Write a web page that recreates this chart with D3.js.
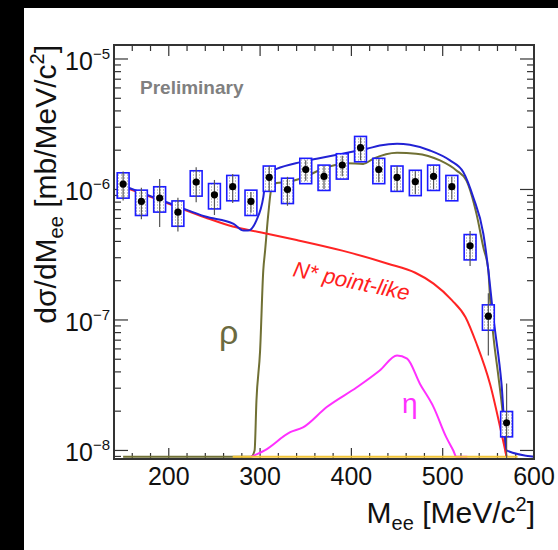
<!DOCTYPE html>
<html lang="en">
<head>
<meta charset="utf-8">
<title>dielectron invariant mass</title>
<script src="https://d3js.org/d3.v7.min.js"></script>
<style>
body{margin:0;background:#000;}
#chart1 text{font-family:"Liberation Sans",Arial,sans-serif;}
</style>
</head>
<body>
<div id="chart1"></div>
<script>
// measured points (M_ee in MeV/c2, dsigma/dM in mb/MeV/c2)
var massBins = [150,170,190,210,230,250,270,290,310,330,350,370,390,410,430,450,470,490,510,530,550,570]
var xsec = [1.10e-6,8.1e-7,8.6e-7,6.7e-7,1.14e-6,9.1e-7,1.05e-6,8.1e-7,1.24e-6,1.0e-6,1.42e-6,1.26e-6,1.54e-6,2.09e-6,1.42e-6,1.24e-6,1.15e-6,1.26e-6,1.05e-6,3.7e-7,1.07e-7,1.63e-8]
var statErr = [0.25,0.27,0.40,0.29,0.30,0.30,0.25,0.18,0.22,0.25,0.18,0.20,0.18,0.20,0.20,0.22,0.20,0.20,0.20,0.30,0.50,1.0]
var sysErr = [0.22,0.22,0.22,0.22,0.22,0.22,0.22,0.22,0.22,0.22,0.22,0.22,0.22,0.22,0.22,0.22,0.22,0.22,0.22,0.22,0.22,0.22]

// model curves
var nstarM = [150,180,210,240,270,300,340,390,440,470,490,510,525,537,552,563,570]
var nstarVal = [1.05e-6,8.8e-7,7.3e-7,6.1e-7,5.2e-7,4.7e-7,4.1e-7,3.4e-7,2.7e-7,2.3e-7,1.9e-7,1.42e-7,1.05e-7,6.6e-8,3.2e-8,1.5e-8,8.5e-9]
var rhoM = [150,290,294,296,300,303.5,305.5,309,312.7,318,329,344,373,395,413,424,450,471,497,515,526,537,544.5,550,552,556,561,566,569.5]
var rhoVal = [0,0,1e-8,2.4e-8,5.8e-8,2.4e-7,3.4e-7,6.5e-7,1.04e-6,1.12e-6,1.14e-6,1.21e-6,1.48e-6,1.59e-6,1.57e-6,1.72e-6,1.91e-6,1.88e-6,1.67e-6,1.40e-6,1.17e-6,6.5e-7,3.6e-7,2.4e-7,1.4e-7,7e-8,3.7e-8,1.83e-8,8.5e-9]
var etaM = [290,305,333,347,373,406,431,450,461,475,490,504,511.6,515,527]
var etaVal = [0,1.0e-8,1.38e-8,1.5e-8,2.15e-8,3.05e-8,4.1e-8,5.35e-8,5.05e-8,3.25e-8,2.15e-8,1.26e-8,1e-8,0,0]
var totalM = [150,180,210,240,271,282,287,296,303.5,307,318,344,362,380,398,417,431,450,464,486,508,522.5,533.5,544.5,550,555.5,564.5,570,600]
var totalVal = [1.07e-6,8.9e-7,7.4e-7,6.2e-7,5.45e-7,4.85e-7,4.85e-7,5.8e-7,8.7e-7,1.32e-6,1.44e-6,1.62e-6,1.72e-6,1.82e-6,1.93e-6,2.05e-6,2.17e-6,2.24e-6,2.2e-6,1.99e-6,1.67e-6,1.36e-6,8.7e-7,4.58e-7,2.4e-7,1.05e-7,3.2e-8,1e-8,0]
var otherM = [270,582]
var otherVal = [0,0]

// axes
var xTickVals = [200,300,400,500,600]
var xTickLabels = ["200","300","400","500","600"]
var yTickExp = [-8,-7,-6,-5]

var w = 558, h = 550
var fl = 114, fr = 534, ft = 45, fb = 459
var yLo = 8.6e-9, yHi = 1.28e-5

var xScale = d3.scaleLinear().domain([140,600]).range([fl,fr])
var yScale = d3.scaleLog().domain([yLo,yHi]).range([fb,ft])

function yPos(v){
    if(v <= yLo) return fb - 2.2
    return Math.min(yScale(v), fb - 2.2)
}

var svg = d3.select("#chart1").append("svg").attr("width",w).attr("height",h)
svg.append("rect").attr("width",w).attr("height",h).attr("fill","#000")
svg.append("rect").attr("x",24).attr("y",8).attr("width",w-24).attr("height",h-8).attr("fill","#fff")

var defs = svg.append("defs")
defs.append("clipPath").attr("id","frameClip")
    .append("rect").attr("x",fl).attr("y",ft).attr("width",fr-fl).attr("height",fb-ft)
var pat = defs.append("pattern").attr("id","hatch").attr("patternUnits","userSpaceOnUse")
    .attr("width",3).attr("height",3)
pat.append("rect").attr("width",3).attr("height",3).attr("fill","#fff")
pat.append("rect").attr("x",1).attr("width",1).attr("height",2).attr("fill","#c4c4c4")

// ticks (inside, all four sides)
var ticks = svg.append("g").attr("stroke","#333").attr("stroke-width",1.2)
d3.range(140,601,20).forEach(function(m){
    var major = (m % 100 == 0)
    var len = major ? 11 : 6
    ticks.append("line").attr("x1",xScale(m)).attr("x2",xScale(m)).attr("y1",fb).attr("y2",fb-len)
    ticks.append("line").attr("x1",xScale(m)).attr("x2",xScale(m)).attr("y1",ft).attr("y2",ft+len)
})
yScale.ticks().forEach(function(v){
    var major = Math.abs(Math.log10(v) - Math.round(Math.log10(v))) < 1e-6
    var len = major ? 14 : 7
    var y = yScale(v)
    ticks.append("line").attr("x1",fl).attr("x2",fl+len).attr("y1",y).attr("y2",y)
    ticks.append("line").attr("x1",fr).attr("x2",fr-len).attr("y1",y).attr("y2",y)
})

// tick labels
xTickVals.forEach(function(m,i){
    svg.append("text").attr("x",xScale(m)).attr("y",485).attr("text-anchor","middle")
        .attr("font-size",25).attr("fill","#111").text(xTickLabels[i])
})
yTickExp.forEach(function(e){
    var y = yScale(Math.pow(10,e))
    var t = svg.append("text").attr("x",110).attr("y",y+11).attr("text-anchor","end").attr("fill","#111")
    t.append("tspan").attr("font-size",25).text("10")
    t.append("tspan").attr("font-size",15).attr("dy",-11).text("\u2212" + Math.abs(e))
})

// axis titles
var xt = svg.append("text").attr("x",535).attr("y",523).attr("text-anchor","end").attr("font-size",30).attr("fill","#111")
xt.append("tspan").text("M")
xt.append("tspan").attr("font-size",20).attr("dy",7).text("ee")
xt.append("tspan").attr("dy",-7).text(" [MeV/c")
xt.append("tspan").attr("font-size",20).attr("dy",-12).text("2")
xt.append("tspan").attr("dy",12).text("]")

var yt = svg.append("text").attr("transform","translate(56,45) rotate(-90)").attr("text-anchor","end")
    .attr("font-size",30).attr("fill","#111")
yt.append("tspan").text("d\u03c3/dM")
yt.append("tspan").attr("font-size",20).attr("dy",7).text("ee")
yt.append("tspan").attr("dy",-7).text(" [mb/MeV/c")
yt.append("tspan").attr("font-size",20).attr("dy",-12).text("2")
yt.append("tspan").attr("dy",12).text("]")

svg.append("text").attr("x",140).attr("y",94).attr("font-size",19).attr("font-weight","bold")
    .attr("fill","#808080").text("Preliminary")

// curves
var plot = svg.append("g").attr("clip-path","url(#frameClip)")
var line = d3.line().x(function(d){ return xScale(d[0]) }).y(function(d){ return yPos(d[1]) })
    .curve(d3.curveMonotoneX)
function drawCurve(ms, vals, col){
    plot.append("path").datum(d3.zip(ms, vals)).attr("d",line)
        .attr("fill","none").attr("stroke",col).attr("stroke-width",2)
}
drawCurve(rhoM, rhoVal, "#707034")
drawCurve(nstarM, nstarVal, "#ff2424")
drawCurve(etaM, etaVal, "#ff30ff")
drawCurve(totalM, totalVal, "#2222d4")
drawCurve(otherM, otherVal, "#f2c436")

// data: sys boxes, stat bars, markers
var pts = d3.range(massBins.length).map(function(i){
    return {m:massBins[i], v:xsec[i], st:statErr[i], sy:sysErr[i]}
})
var boxHalf = 6.5
plot.selectAll("rect.sys").data(pts).enter().append("rect")
    .attr("class","sys")
    .attr("x",function(d){ return xScale(d.m - boxHalf) })
    .attr("width",function(d){ return xScale(d.m + boxHalf) - xScale(d.m - boxHalf) })
    .attr("y",function(d){ return yPos(d.v*(1+d.sy)) })
    .attr("height",function(d){ return yPos(d.v*(1-d.sy)) - yPos(d.v*(1+d.sy)) })
    .attr("fill","url(#hatch)").attr("stroke","#1c1cff").attr("stroke-width",1.6)
plot.selectAll("line.stat").data(pts).enter().append("line")
    .attr("class","stat")
    .attr("x1",function(d){ return xScale(d.m) }).attr("x2",function(d){ return xScale(d.m) })
    .attr("y1",function(d){ return yPos(d.v*(1+d.st)) })
    .attr("y2",function(d){ return d.st >= 1 ? fb : yPos(d.v*(1-d.st)) })
    .attr("stroke","#555").attr("stroke-width",1.2)
plot.selectAll("circle").data(pts).enter().append("circle")
    .attr("cx",function(d){ return xScale(d.m) }).attr("cy",function(d){ return yPos(d.v) })
    .attr("r",3.6).attr("fill","#000")

// frame
svg.append("rect").attr("x",fl).attr("y",ft).attr("width",fr-fl).attr("height",fb-ft)
    .attr("fill","none").attr("stroke","#333").attr("stroke-width",2)

// curve labels
svg.append("text").attr("transform","translate(292,276) rotate(12)")
    .attr("font-size",22).attr("font-style","italic").attr("fill","#ff2020").text("N* point-like")
svg.append("text").attr("x",219).attr("y",344).attr("font-family","DejaVu Serif, serif")
    .attr("font-size",34).attr("fill","#6b6a40").text("\u03c1")
svg.append("text").attr("x",402).attr("y",413).attr("font-family","DejaVu Serif, serif")
    .attr("font-size",28).attr("fill","#ff30ff").text("\u03b7")
</script>
</body>
</html>
